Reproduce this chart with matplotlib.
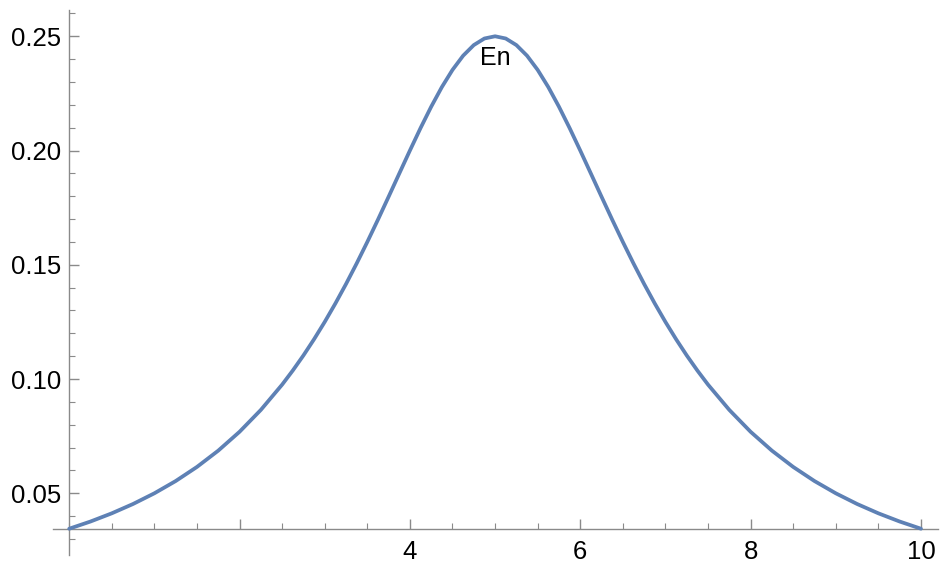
import matplotlib
matplotlib.use("Agg")
import matplotlib.pyplot as plt
from matplotlib.ticker import FixedLocator, MultipleLocator

plt.rcParams['font.family'] = ['Liberation Sans', 'DejaVu Sans']

x_vals = [0.0, 0.25, 0.5, 0.75, 1.0, 1.25, 1.5, 1.75, 2.0, 2.25, 2.5, 2.625, 2.75, 2.875,
          3.0, 3.125, 3.25, 3.375, 3.5, 3.625, 3.75, 3.875, 4.0, 4.125, 4.25, 4.375, 4.5,
          4.625, 4.75, 4.875, 5.0, 5.125, 5.25, 5.375, 5.5, 5.625, 5.75, 5.875, 6.0,
          6.125, 6.25, 6.375, 6.5, 6.625, 6.75, 6.875, 7.0, 7.125, 7.25, 7.375, 7.5,
          7.75, 8.0, 8.25, 8.5, 8.75, 9.0, 9.25, 9.5, 9.75, 10.0]
y_vals = [0.0345, 0.03765, 0.04124, 0.04533, 0.05, 0.05536, 0.06154, 0.06867,
          0.07692, 0.08649, 0.09756, 0.10373, 0.11034, 0.11743,
          0.125, 0.13306, 0.14159, 0.15059, 0.16, 0.16976, 0.17978, 0.18991,
          0.2, 0.20984, 0.21918, 0.22776, 0.23529, 0.24151, 0.24615, 0.24903,
          0.25, 0.24903, 0.24615, 0.24151, 0.23529, 0.22776, 0.21918, 0.20984,
          0.2, 0.18991, 0.17978, 0.16976, 0.16, 0.15059, 0.14159, 0.13306,
          0.125, 0.11743, 0.11034, 0.10373, 0.09756, 0.08649,
          0.07692, 0.06867, 0.06154, 0.05536, 0.05, 0.04533, 0.04124, 0.03765, 0.0345]

x_major = [2, 4, 6, 8, 10]
x_major_labels = ["", "4", "6", "8", "10"]
y_major = [0.05, 0.10, 0.15, 0.20, 0.25]
y_major_labels = ["0.05", "0.10", "0.15", "0.20", "0.25"]
series_label = "En"
label_pos = (5.0, 0.2405)

W, H = 940, 563
fig = plt.figure(figsize=(W / 100, H / 100), dpi=100)
ax = fig.add_axes([53 / W, 8 / H, 885 / W, 545 / H])
ax.set_xlim(-0.19, 10.2)
ax.set_ylim(0.0230, 0.2615)

ax.plot(x_vals, y_vals, color='#5E81B5', lw=2.7, solid_capstyle='round',
        solid_joinstyle='round', clip_on=False, zorder=3)
ax.text(label_pos[0], label_pos[1], series_label, ha='center', va='center', fontsize=18, color='black')

axis_color = '#8a8a8a'
for s in ['top', 'right']:
    ax.spines[s].set_visible(False)
ax.spines['left'].set_position(('data', 0))
ax.spines['bottom'].set_position(('data', 0.0345))
for s in ['left', 'bottom']:
    ax.spines[s].set_color(axis_color)
    ax.spines[s].set_linewidth(1.0)

ax.xaxis.set_major_locator(FixedLocator(x_major))
ax.set_xticklabels(x_major_labels)
ax.xaxis.set_minor_locator(MultipleLocator(0.5))
ax.yaxis.set_major_locator(FixedLocator(y_major))
ax.set_yticklabels(y_major_labels)
ax.yaxis.set_minor_locator(MultipleLocator(0.01))

ax.tick_params(which='both', direction='in', color=axis_color, labelcolor='black', labelsize=18.5)
ax.tick_params(which='major', length=7, width=1.0)
ax.tick_params(which='minor', length=4.2, width=0.8)
ax.tick_params(axis='x', which='major', pad=8)
ax.tick_params(axis='y', which='major', pad=6)

fig.savefig('out.png', dpi=100)
